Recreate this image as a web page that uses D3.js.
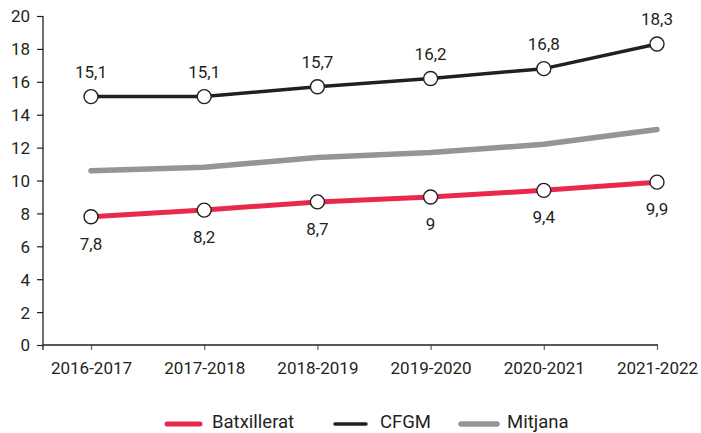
<!DOCTYPE html>
<html>
<head>
<meta charset="utf-8">
<script src="https://cdn.jsdelivr.net/npm/d3@7"></script>
<style>
  body { margin: 0; background: #fff; }
  text { font-family: Roboto, "Noto Sans", sans-serif; fill: #231f20; }
</style>
</head>
<body>
<svg id="chart" width="701" height="433"></svg>
<script>
// Data
var categories = ["2016-2017", "2017-2018", "2018-2019", "2019-2020", "2020-2021", "2021-2022"];
var batxillerat = [7.8, 8.2, 8.7, 9, 9.4, 9.9];
var cfgm = [15.1, 15.1, 15.7, 16.2, 16.8, 18.3];
var mitjana = [10.6, 10.8, 11.4, 11.7, 12.2, 13.1];
var yTicks = [0, 2, 4, 6, 8, 10, 12, 14, 16, 18, 20];
var legendNames = ["Batxillerat", "CFGM", "Mitjana"];

var svg = d3.select("#chart");

var x = d3.scalePoint().domain(categories).range([91, 657]);
var y = d3.scaleLinear().domain([0, 20]).range([345, 16]);

var ink = "#231f20";

// Y axis
var yAxis = svg.append("g")
    .attr("transform", "translate(43,0)")
    .call(d3.axisLeft(y).tickValues(yTicks).tickSize(6).tickSizeOuter(0).tickPadding(7));
yAxis.select(".domain").remove();
yAxis.selectAll(".tick line").attr("stroke", ink).attr("stroke-width", 1.2);
yAxis.selectAll(".tick text").style("font-size", "17px").attr("dy", "0.35em");
yAxis.append("line")
    .attr("y1", y(20)).attr("y2", 350)
    .attr("stroke", ink).attr("stroke-width", 1.3);

// X axis
var xAxis = svg.append("g")
    .attr("transform", "translate(0,345)")
    .call(d3.axisBottom(x).tickSize(5).tickSizeOuter(0).tickPadding(12));
xAxis.select(".domain").remove();
xAxis.selectAll(".tick line").attr("stroke", "#6d6e70").attr("stroke-width", 1.3);
xAxis.selectAll(".tick text").style("font-size", "17px");
xAxis.append("line")
    .attr("x1", 43).attr("x2", 658)
    .attr("stroke", ink).attr("stroke-width", 1.3);

// Lines
var series = [
    {name: "Mitjana", values: mitjana, color: "#939598", width: 5.5},
    {name: "Batxillerat", values: batxillerat, color: "#e8294c", width: 5},
    {name: "CFGM", values: cfgm, color: ink, width: 3.5}
];

var line = d3.line()
    .x(function (d, i) { return x(categories[i]); })
    .y(function (d) { return y(d); });

svg.selectAll(".series")
    .data(series)
    .enter().append("path")
    .attr("class", "series")
    .attr("d", function (s) { return line(s.values); })
    .attr("fill", "none")
    .attr("stroke", function (s) { return s.color; })
    .attr("stroke-width", function (s) { return s.width; })
    .attr("stroke-linecap", "round")
    .attr("stroke-linejoin", "round");

// Markers and labels
var marked = [
    {values: batxillerat, below: true},
    {values: cfgm, below: false}
];

marked.forEach(function (m) {
    var g = svg.append("g");
    g.selectAll("circle")
        .data(m.values)
        .enter().append("circle")
        .attr("cx", function (d, i) { return x(categories[i]); })
        .attr("cy", function (d) { return y(d); })
        .attr("r", 7)
        .attr("fill", "#fff")
        .attr("stroke", ink)
        .attr("stroke-width", 1.4);
    g.selectAll("text")
        .data(m.values)
        .enter().append("text")
        .attr("x", function (d, i) { return x(categories[i]); })
        .attr("y", function (d) { return y(d) + (m.below ? 33 : -19); })
        .attr("text-anchor", "middle")
        .style("font-size", "17px")
        .text(function (d) { return String(d).replace(".", ","); });
});

// Legend
var legendItems = [
    {name: legendNames[0], color: "#e8294c", width: 5, x1: 167, x2: 200, tx: 212},
    {name: legendNames[1], color: ink, width: 3.5, x1: 335, x2: 366, tx: 380},
    {name: legendNames[2], color: "#939598", width: 5.5, x1: 461, x2: 497, tx: 507}
];

var legend = svg.append("g");
legendItems.forEach(function (it) {
    legend.append("line")
        .attr("x1", it.x1).attr("x2", it.x2)
        .attr("y1", 424).attr("y2", 424)
        .attr("stroke", it.color)
        .attr("stroke-width", it.width)
        .attr("stroke-linecap", "round");
    legend.append("text")
        .attr("x", it.tx).attr("y", 428)
        .style("font-size", "18.5px")
        .text(it.name);
});
</script>
</body>
</html>
